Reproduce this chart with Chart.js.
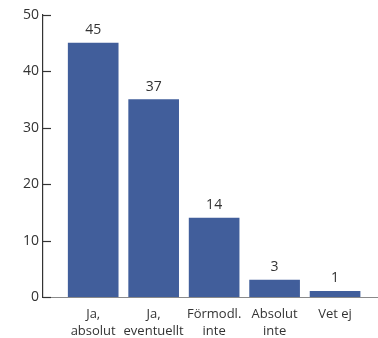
<!DOCTYPE html>
<html>
<head>
<meta charset="utf-8">
<script src="https://cdn.jsdelivr.net/npm/chart.js@4"></script>
<style>
  html, body { margin: 0; padding: 0; background: #fff; }
  #wrap { width: 378px; height: 338px; }
</style>
</head>
<body>
<div id="wrap"><canvas id="chart" width="378" height="338"></canvas></div>
<script>
// category labels (multi-line) and bar data
const categories = [["Ja,", "absolut"], ["Ja,", "eventuellt"], ["Förmodl.", "inte"], ["Absolut", "inte"], ["Vet ej"]];
const values = [45, 35, 14, 3, 1];
// printed value labels above the bars (as shown in the picture)
const valueLabels = ["45", "37", "14", "3", "1"];
const yTicks = [0, 10, 20, 30, 40, 50];

const BAR = "#415e9b";
const TEXT = "#333";
const FONT = "'Open Sans', 'Noto Sans', sans-serif";

// value labels above bars
const valueLabelPlugin = {
  id: "valueLabels",
  afterDatasetsDraw(chart) {
    const ctx = chart.ctx;
    const meta = chart.getDatasetMeta(0);
    ctx.save();
    ctx.fillStyle = TEXT;
    ctx.font = "14px " + FONT;
    ctx.textAlign = "center";
    ctx.textBaseline = "middle";
    meta.data.forEach((bar, i) => {
      ctx.fillText(valueLabels[i], bar.x, bar.y - 13);
    });
    ctx.restore();
  },
};

// y tick marks point inward (to the right of the axis)
const innerTicks = {
  id: "innerTicks",
  afterDraw(chart) {
    const ctx = chart.ctx;
    const y = chart.scales.y;
    const left = chart.chartArea.left;
    ctx.save();
    ctx.strokeStyle = "#333";
    ctx.lineWidth = 1.2;
    yTicks.forEach((v) => {
      const py = Math.round(y.getPixelForValue(v)) + 0.5;
      ctx.beginPath();
      ctx.moveTo(left, py);
      ctx.lineTo(left + 8, py);
      ctx.stroke();
    });
    ctx.restore();
  },
};

new Chart(document.getElementById("chart"), {
  type: "bar",
  data: {
    datasets: [{
      data: values.map((v, i) => ({ x: i, y: v })),
      backgroundColor: BAR,
      borderWidth: 0,
      barThickness: 50,
    }],
  },
  options: {
    responsive: false,
    animation: false,
    layout: { padding: { top: 15, right: 0, left: 0, bottom: 0 } },
    plugins: { legend: { display: false }, tooltip: { enabled: false } },
    scales: {
      x: {
        type: "linear",
        offset: false,
        min: -0.83,
        max: 4.71,
        afterBuildTicks: (s) => { s.ticks = categories.map((_, i) => ({ value: i })); },
        afterFit: (s) => { s.height = 41; },
        grid: { display: false, drawTicks: false, offset: false },
        border: { display: true, color: "#8a8a8a", width: 1 },
        ticks: {
          autoSkip: false,
          maxRotation: 0,
          padding: 9,
          color: TEXT,
          font: { family: FONT, size: 13, lineHeight: 1.3 },
          callback: (v) => categories[v] || "",
        },
      },
      y: {
        min: 0,
        max: 50,
        afterBuildTicks: (s) => { s.ticks = yTicks.map((v) => ({ value: v })); },
        afterFit: (s) => { s.width = 43; },
        grid: { display: false, drawTicks: false },
        border: { display: true, color: "#333", width: 1.2 },
        ticks: {
          padding: 4,
          color: TEXT,
          font: { family: FONT, size: 14 },
        },
      },
    },
  },
  plugins: [valueLabelPlugin, innerTicks],
});
</script>
</body>
</html>
